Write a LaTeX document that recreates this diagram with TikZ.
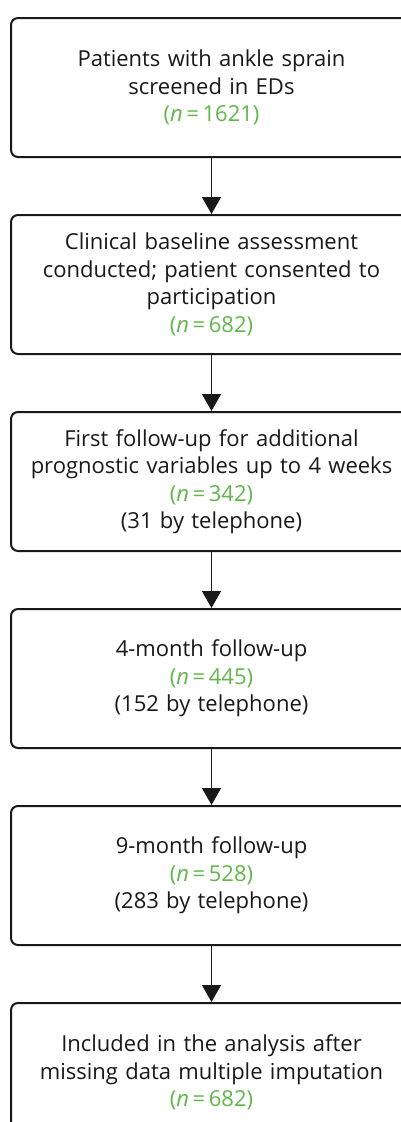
\documentclass[tikz,border=0pt]{standalone}
\usepackage{fontspec}
\setmainfont{Open Sans}
\usetikzlibrary{arrows.meta,positioning}
\definecolor{leafgreen}{RGB}{98,183,76}
\definecolor{ink}{RGB}{25,25,25}
\tikzset{
  >={Triangle[width=19pt,length=17pt]},
  stage/.style={draw=ink,line width=2pt,rounded corners=7pt,fill=white,
    minimum width=401pt,minimum height=139pt,text width=390pt,inner xsep=4pt,
    align=center,font=\fontsize{22}{27.5}\selectfont,text=ink},
  flow/.style={->,line width=1.6pt,draw=ink},
}
\newcommand{\nval}[1]{\textcolor{leafgreen}{(\textit{n}\,=\,#1)}}

\begin{document}
\begin{tikzpicture}[x=1pt,y=-1pt]
  \useasboundingbox (0,0) rectangle (401,1122);
  \clip (0,0) rectangle (401,1122);
  % stages of the cohort
  \node[stage,anchor=north] (screen) at (211.5,17) {Patients with ankle sprain\\screened in EDs\\\nval{1621}};
  \node[stage,below=56pt of screen] (baseline) {Clinical baseline assessment\\conducted; patient consented to\\participation\\\nval{682}};
  \node[stage,below=56pt of baseline] (first) {First follow-up for additional\\prognostic variables up to 4 weeks\\\nval{342}\\(31 by telephone)};
  \node[stage,below=56pt of first] (four) {4-month follow-up\\\nval{445}\\(152 by telephone)};
  \node[stage,below=56pt of four] (nine) {9-month follow-up\\\nval{528}\\(283 by telephone)};
  \node[stage,below=56pt of nine] (analysis) {Included in the analysis after\\missing data multiple imputation\\\nval{682}};
  % arrows
  \draw[flow] (screen) -- (baseline);
  \draw[flow] (baseline) -- (first);
  \draw[flow] (first) -- (four);
  \draw[flow] (four) -- (nine);
  \draw[flow] (nine) -- (analysis);
\end{tikzpicture}
\end{document}
